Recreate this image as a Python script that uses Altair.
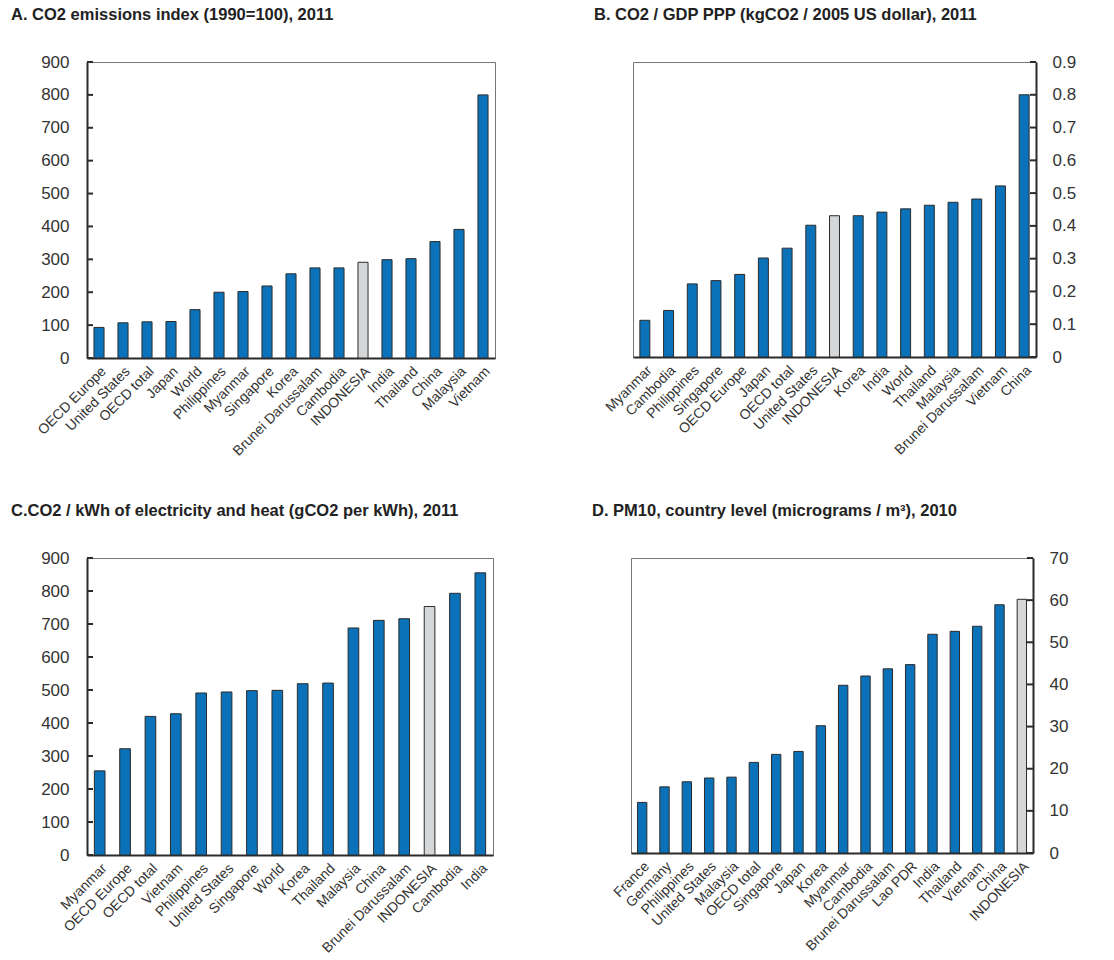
import altair as alt
import pandas as pd

# Panel A: CO2 emissions index (1990=100), 2011
a_countries = ["OECD Europe", "United States", "OECD total", "Japan", "World", "Philippines",
               "Myanmar", "Singapore", "Korea", "Brunei Darussalam", "Cambodia", "INDONESIA",
               "India", "Thailand", "China", "Malaysia", "Vietnam"]
a_values = [93, 107, 110, 111, 147, 200, 202, 219, 256, 274, 274, 291, 299, 302, 354, 391, 800]

# Panel B: CO2 / GDP PPP (kgCO2 / 2005 US dollar), 2011
b_countries = ["Myanmar", "Cambodia", "Philippines", "Singapore", "OECD Europe", "Japan",
               "OECD total", "United States", "INDONESIA", "Korea", "India", "World",
               "Thailand", "Malaysia", "Brunei Darussalam", "Vietnam", "China"]
b_values = [0.112, 0.142, 0.223, 0.233, 0.252, 0.302, 0.332, 0.402, 0.431, 0.431, 0.442,
            0.452, 0.463, 0.472, 0.482, 0.522, 0.800]

# Panel C: CO2 / kWh of electricity and heat (gCO2 per kWh), 2011
c_countries = ["Myanmar", "OECD Europe", "OECD total", "Vietnam", "Philippines", "United States",
               "Singapore", "World", "Korea", "Thailand", "Malaysia", "China",
               "Brunei Darussalam", "INDONESIA", "Cambodia", "India"]
c_values = [255, 322, 420, 428, 491, 494, 498, 499, 519, 521, 688, 711, 716, 753, 793, 855]

# Panel D: PM10, country level (micrograms / m3), 2010
d_countries = ["France", "Germany", "Philippines", "United States", "Malaysia", "OECD total",
               "Singapore", "Japan", "Korea", "Myanmar", "Cambodia", "Brunei Darussalam",
               "Lao PDR", "India", "Thailand", "Vietnam", "China", "INDONESIA"]
d_values = [12.0, 15.7, 16.9, 17.8, 18.0, 21.5, 23.4, 24.1, 30.2, 39.8, 42.0, 43.7, 44.7,
            51.9, 52.6, 53.8, 58.9, 60.2]

a_ticks = [0, 100, 200, 300, 400, 500, 600, 700, 800, 900]
b_ticks = [0, 0.1, 0.2, 0.3, 0.4, 0.5, 0.6, 0.7, 0.8, 0.9]
c_ticks = [0, 100, 200, 300, 400, 500, 600, 700, 800, 900]
d_ticks = [0, 10, 20, 30, 40, 50, 60, 70]

HIGHLIGHT = "INDONESIA"
BLUE = "#0b72b9"
GREY = "#d4d6d8"
DARK = "#2b2b2b"
FONT = "Liberation Sans"


def panel(title, countries, values, ticks, fmt, side, width, height, title_dx):
    df = pd.DataFrame({
        "country": countries,
        "value": values,
        "kind": ["focus" if c == HIGHLIGHT else "other" for c in countries],
    })
    tick_df = pd.DataFrame({"value": ticks})
    yscale = alt.Scale(domain=[ticks[0], ticks[-1]], nice=False, zero=True)
    yaxis = alt.Axis(orient=side, values=ticks, format=fmt, grid=False, ticks=False,
                     labelFontSize=17, labelColor="#333333", labelFont=FONT,
                     labelPadding=18 if side == "left" else 16,
                     domainColor=DARK, domainWidth=2,
                     labelFlush=False, labelOverlap=False)

    bars = alt.Chart(df).mark_bar(stroke=DARK, strokeWidth=1).encode(
        x=alt.X("country:N", sort=None, title=None,
                scale=alt.Scale(paddingInner=0.58, paddingOuter=0.29),
                axis=alt.Axis(labelAngle=-45, labelAlign="right", labelBaseline="top",
                              labelFontSize=14, labelColor="#333333", labelFont=FONT,
                              ticks=False, labelPadding=6,
                              domainColor=DARK, domainWidth=2)),
        y=alt.Y("value:Q", scale=yscale, title=None, axis=yaxis),
        color=alt.Color("kind:N", legend=None,
                        scale=alt.Scale(domain=["other", "focus"], range=[BLUE, GREY])),
    )

    # inward tick marks drawn along the value axis
    if side == "left":
        tx, tx2 = alt.value(0), alt.value(6)
    else:
        tx, tx2 = alt.value(width - 6), alt.value(width)
    tick_marks = alt.Chart(tick_df).mark_rule(color=DARK, strokeWidth=2).encode(
        y=alt.Y("value:Q", scale=yscale, title=None, axis=yaxis), x=tx, x2=tx2,
    )

    return alt.layer(bars, tick_marks).properties(
        width=width, height=height,
        title=alt.TitleParams(title, anchor="start", frame="group", dx=title_dx, offset=30,
                              fontSize=16.5, fontWeight="bold", font=FONT, color="#222222"),
    )


pa = panel("A. CO2 emissions index (1990=100), 2011", a_countries, a_values, a_ticks, "d",
           "left", 408, 296, -76)
pb = panel("B. CO2 / GDP PPP (kgCO2 / 2005 US dollar), 2011", b_countries, b_values, b_ticks,
           ".1~f", "right", 403, 295, -39)
pc = panel("C.CO2 / kWh of electricity and heat (gCO2 per kWh), 2011", c_countries, c_values,
           c_ticks, "d", "left", 406, 297, -76)
pd_ = panel("D. PM10, country level (micrograms / m³), 2010", d_countries, d_values, d_ticks,
            "d", "right", 402, 295, -39)

chart = alt.vconcat(
    alt.hconcat(pa, pb, spacing=97),
    alt.hconcat(pc, pd_, spacing=97),
    spacing=43,
).properties(
    padding={"left": 10, "top": 6, "right": 5, "bottom": 0},
    background="white",
).configure_view(stroke="#777777", strokeWidth=1)

chart.save("out.html", embed_options={"renderer": "svg", "actions": False})
